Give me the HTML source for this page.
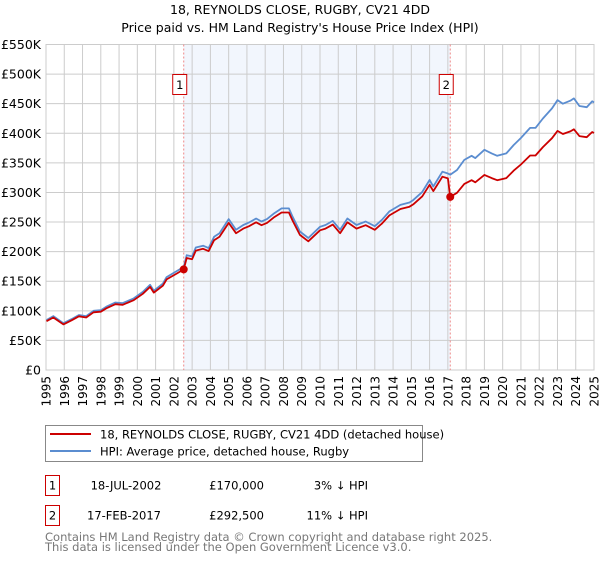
<!DOCTYPE html>
<html><head><meta charset="utf-8"><style>
body{margin:0;background:#fff;font-family:"Liberation Sans","DejaVu Sans",sans-serif}
svg text{font-family:"DejaVu Sans","Liberation Sans",sans-serif}
</style></head><body>
<svg id="c" width="600" height="560" xmlns="http://www.w3.org/2000/svg">
<text x="300" y="14" text-anchor="middle" font-size="12.5">18, REYNOLDS CLOSE, RUGBY, CV21 4DD</text>
<text x="300" y="32" text-anchor="middle" font-size="12.5">Price paid vs. HM Land Registry's House Price Index (HPI)</text>
<g id="plot"></g>
<g>
<rect x="45.5" y="425.5" width="377" height="36" fill="#fff" stroke="#888"/>
<line x1="50" y1="434" x2="91" y2="434" stroke="#cc0000" stroke-width="2"/>
<text x="100" y="438.5" font-size="11.5">18, REYNOLDS CLOSE, RUGBY, CV21 4DD (detached house)</text>
<line x1="50" y1="451" x2="91" y2="451" stroke="#5b8dd0" stroke-width="2"/>
<text x="100" y="455.5" font-size="11.5">HPI: Average price, detached house, Rugby</text>
</g>
<g font-size="11.5">
<rect x="45.5" y="475.5" width="14" height="20" fill="#fff" stroke="#cc0000"/>
<text x="52.5" y="489.5" text-anchor="middle">1</text>
<text x="126" y="489.5" text-anchor="middle">18-JUL-2002</text>
<text x="264" y="489.5" text-anchor="end">£170,000</text>
<text x="368" y="489.5" text-anchor="end">3% ↓ HPI</text>
<rect x="45.5" y="505.5" width="14" height="20" fill="#fff" stroke="#cc0000"/>
<text x="52.5" y="519.5" text-anchor="middle">2</text>
<text x="124" y="519.5" text-anchor="middle">17-FEB-2017</text>
<text x="264" y="519.5" text-anchor="end">£292,500</text>
<text x="368" y="519.5" text-anchor="end">11% ↓ HPI</text>
</g>
<text x="45" y="541" font-size="11.5" fill="#777">Contains HM Land Registry data © Crown copyright and database right 2025.</text>
<text x="45" y="551" font-size="11.5" fill="#777">This data is licensed under the Open Government Licence v3.0.</text>
</svg>
<script>
const years=[1995.03,1995.4,1995.95,1996.4,1996.8,1997.2,1997.6,1998.0,1998.3,1998.8,1999.2,1999.8,2000.3,2000.7,2000.9,2001.4,2001.6,2002.2,2002.54,2002.7,2003.0,2003.2,2003.6,2003.9,2004.2,2004.5,2005.0,2005.4,2005.8,2006.1,2006.5,2006.8,2007.1,2007.5,2007.9,2008.3,2008.5,2008.9,2009.36,2010.0,2010.3,2010.7,2011.1,2011.5,2012.0,2012.5,2013.0,2013.4,2013.8,2014.4,2014.9,2015.1,2015.6,2016.0,2016.2,2016.7,2017.0,2017.13,2017.5,2017.9,2018.3,2018.5,2019.0,2019.4,2019.7,2020.2,2020.6,2021.0,2021.5,2021.8,2022.2,2022.7,2023.0,2023.3,2023.7,2023.9,2024.2,2024.6,2024.9,2025.0];
const hpiValues=[84.5,91,79,86,93,91,100,101,107,114,113,121,132,144,134,146,157,168,174,194,192,207,210,206,225,231,255,237,245,249,256,251,255,265,273,273,259,234,223,242,245,252,237,256,245,251,243,254,268,279,283,287,301,321,310,335,332,330,338,355,362,358,372,366,362,366,380,392,409,409,425,442,456,450,455,459,446,444,454,452];
const propertyValues=[82.4,88.7,77.0,83.9,90.7,88.7,97.5,98.5,104.3,111.2,110.2,118.0,128.7,140.4,130.7,142.4,153.1,163.8,170,189.2,187.2,201.8,204.8,200.9,219.4,225.2,248.6,231.1,238.9,242.8,249.6,244.7,248.6,258.4,266.2,266.2,252.5,228.2,217.4,236.0,238.9,245.7,231.1,249.6,238.9,244.7,236.9,247.7,261.3,272.0,275.9,279.8,293.5,313.0,302.3,326.6,323.7,292.5,299.5,314.5,320.7,317.2,329.6,324.3,320.7,324.3,336.7,347.3,362.4,362.4,376.6,391.6,404.0,398.7,403.1,406.7,395.2,393.4,402.2,400.5];
const saleYears=[2002.54,2017.13];
const salePrices=[170,292.5];
const saleLabels=["1","2"];
const yTicks=[0,50,100,150,200,250,300,350,400,450,500,550];
const yTickLabels=["£0","£50K","£100K","£150K","£200K","£250K","£300K","£350K","£400K","£450K","£500K","£550K"];
const xTickYears=[1995,1996,1997,1998,1999,2000,2001,2002,2003,2004,2005,2006,2007,2008,2009,2010,2011,2012,2013,2014,2015,2016,2017,2018,2019,2020,2021,2022,2023,2024,2025];

const L=46,R=594,T=44.5,B=370;
const x=y=>L+(y-1995)/30*(R-L);
const yv=v=>B-v/550*(B-T);
const NS="http://www.w3.org/2000/svg";
const g=document.getElementById('plot');
function mk(t,a,p){const e=document.createElementNS(NS,t);for(const k in a)e.setAttribute(k,a[k]);(p||g).appendChild(e);return e;}

const bg=mk('rect',{x:L,y:T,width:R-L,height:B-T,fill:'#fff',stroke:'#ccc'});


const sh=mk('rect',{x:x(saleYears[0]),y:T,width:x(saleYears[1])-x(saleYears[0]),height:B-T,fill:'#f2f6fd'});


xTickYears.forEach(yr=>{
  const l=mk('line',{x1:x(yr),x2:x(yr),y1:T,y2:B,stroke:'#ccc','stroke-width':1});
  
  
  const t=mk('text',{x:0,y:0,'font-size':12,'text-anchor':'end',transform:`translate(${x(yr)+4.5},${B+6}) rotate(-90)`});
  t.textContent=yr;
  
  
});
yTicks.forEach((v,i)=>{
  const l=mk('line',{x1:L,x2:R,y1:yv(v),y2:yv(v),stroke:'#ccc','stroke-width':1});
  
  
  const t=mk('text',{x:41,y:yv(v)+4.5,'font-size':12.5,'text-anchor':'end'});
  t.textContent=yTickLabels[i];
  
  
});
saleYears.forEach((s,i)=>{
  const l=mk('line',{x1:x(s),x2:x(s),y1:T,y2:B,stroke:'#e88','stroke-width':1,'stroke-dasharray':'2,2'});
  
  
  const r=mk('rect',{x:x(s)-11,y:74.5,width:14,height:20,fill:'#fff',stroke:'#cc0000'});
  
  
  const t=mk('text',{x:x(s)-4,y:89,'font-size':11.5,'text-anchor':'middle'});
  t.textContent=saleLabels[i];
  
  
});
const pts=a=>a.map((v,i)=>x(years[i]).toFixed(1)+','+yv(v).toFixed(1)).join(' ');
const hl=mk('polyline',{points:pts(hpiValues),fill:'none',stroke:'#5b8dd0','stroke-width':1.8,'stroke-linejoin':'round'});


const pl=mk('polyline',{points:pts(propertyValues),fill:'none',stroke:'#cc0000','stroke-width':1.8,'stroke-linejoin':'round'});


saleYears.forEach((s,i)=>{
  const c=mk('circle',{cx:x(s),cy:yv(salePrices[i]),r:4,fill:'#cc0000'});
  
  
});
</script>
</body></html>
